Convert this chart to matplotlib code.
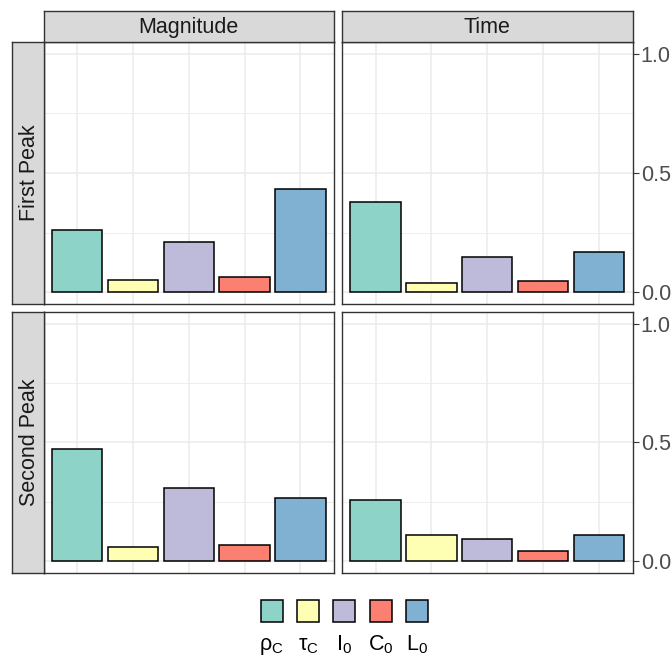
import matplotlib
matplotlib.use("Agg")
import matplotlib.pyplot as plt
from matplotlib.patches import Rectangle

plt.rcParams['font.family'] = ['Liberation Sans', 'DejaVu Sans']
plt.rcParams['mathtext.fontset'] = 'custom'
plt.rcParams['mathtext.rm'] = 'Liberation Sans'
plt.rcParams['mathtext.it'] = 'Liberation Sans'

categories = ['rho_C', 'tau_C', 'I_0', 'C_0', 'L_0']
legend_labels = [r'$\mathrm{\rho_C}$', r'$\mathrm{\tau_C}$', r'$\mathrm{I_0}$', r'$\mathrm{C_0}$', r'$\mathrm{L_0}$']
colors = ['#8DD3C7', '#FFFFB3', '#BEBADA', '#FB8072', '#80B1D3']
col_labels = ['Magnitude', 'Time']
row_labels = ['First Peak', 'Second Peak']

first_magnitude = [0.260, 0.051, 0.209, 0.065, 0.434]
first_time = [0.378, 0.038, 0.146, 0.047, 0.167]
second_magnitude = [0.473, 0.060, 0.308, 0.070, 0.265]
second_time = [0.258, 0.109, 0.095, 0.043, 0.110]
values = [[first_magnitude, first_time], [second_magnitude, second_time]]

yticks = [0.0, 0.5, 1.0]
yticklabels = ['0.0', '0.5', '1.0']

W, H = 671, 656
fig = plt.figure(figsize=(W / 100, H / 100), dpi=100)

def px(x0, y0, x1, y1):
    return [x0 / W, 1 - y1 / H, (x1 - x0) / W, (y1 - y0) / H]

col_x = [(43.5, 334), (342, 632.5)]
row_y = [(42, 304), (311.7, 573.3)]
edge = '#333333'
FS = 15.5

for r in range(2):
    for c in range(2):
        x0, x1 = col_x[c]
        y0, y1 = row_y[r]
        ax = fig.add_axes(px(x0, y0, x1, y1))
        xs = list(range(1, len(categories) + 1))
        ax.bar(xs, values[r][c], width=0.9, color=colors, edgecolor='black', linewidth=1.1, zorder=3)
        ax.set_xlim(0.4, 5.6)
        ax.set_ylim(-0.05, 1.05)
        ax.set_xticks(xs)
        ax.set_yticks(yticks)
        ax.set_yticks([0.25, 0.75], minor=True)
        ax.grid(True, which='major', color='#EBEBEB', linewidth=1.1, zorder=0)
        ax.grid(True, which='minor', axis='y', color='#EBEBEB', linewidth=0.6, zorder=0)
        ax.set_axisbelow(True)
        ax.tick_params(axis='x', which='both', length=0, labelbottom=False)
        ax.tick_params(axis='y', which='minor', length=0)
        if c == 1:
            ax.yaxis.tick_right()
            ax.set_yticklabels(yticklabels)
            ax.tick_params(axis='y', which='major', length=4, color=edge, width=0.8,
                           labelsize=FS, labelcolor='#4D4D4D', pad=2)
        else:
            ax.tick_params(axis='y', which='major', length=0, labelleft=False)
        for s in ax.spines.values():
            s.set_color(edge)
            s.set_linewidth(1.0)
        # top strips
        if r == 0:
            sax = fig.add_axes(px(x0, 10.7, x1, 42))
            sax.set_facecolor('#D9D9D9')
            sax.set_xticks([]); sax.set_yticks([])
            for s in sax.spines.values():
                s.set_color(edge); s.set_linewidth(1.0)
            sax.text(0.5, 0.47, col_labels[c], ha='center', va='center', fontsize=FS,
                     color='#1A1A1A', transform=sax.transAxes)
        if c == 0:
            sax = fig.add_axes(px(11.5, y0, 43.5, y1))
            sax.set_facecolor('#D9D9D9')
            sax.set_xticks([]); sax.set_yticks([])
            for s in sax.spines.values():
                s.set_color(edge); s.set_linewidth(1.0)
            sax.text(0.56, 0.5, row_labels[r], ha='center', va='center', fontsize=FS,
                     color='#1A1A1A', rotation=90, transform=sax.transAxes)

# legend
lax = fig.add_axes(px(240, 590, 440, 656))
lax.set_xlim(240, 440)
lax.set_ylim(656, 590)
lax.axis('off')
centers = [271.7, 308, 344, 380.5, 416.7]
for cx, col, lab in zip(centers, colors, legend_labels):
    lax.add_patch(Rectangle((cx - 11, 600), 22, 21.7, facecolor=col, edgecolor='black', linewidth=1.1))
    lax.text(cx, 650, lab, ha='center', va='baseline', fontsize=FS, color='black')

fig.savefig('out.png', dpi=100)
